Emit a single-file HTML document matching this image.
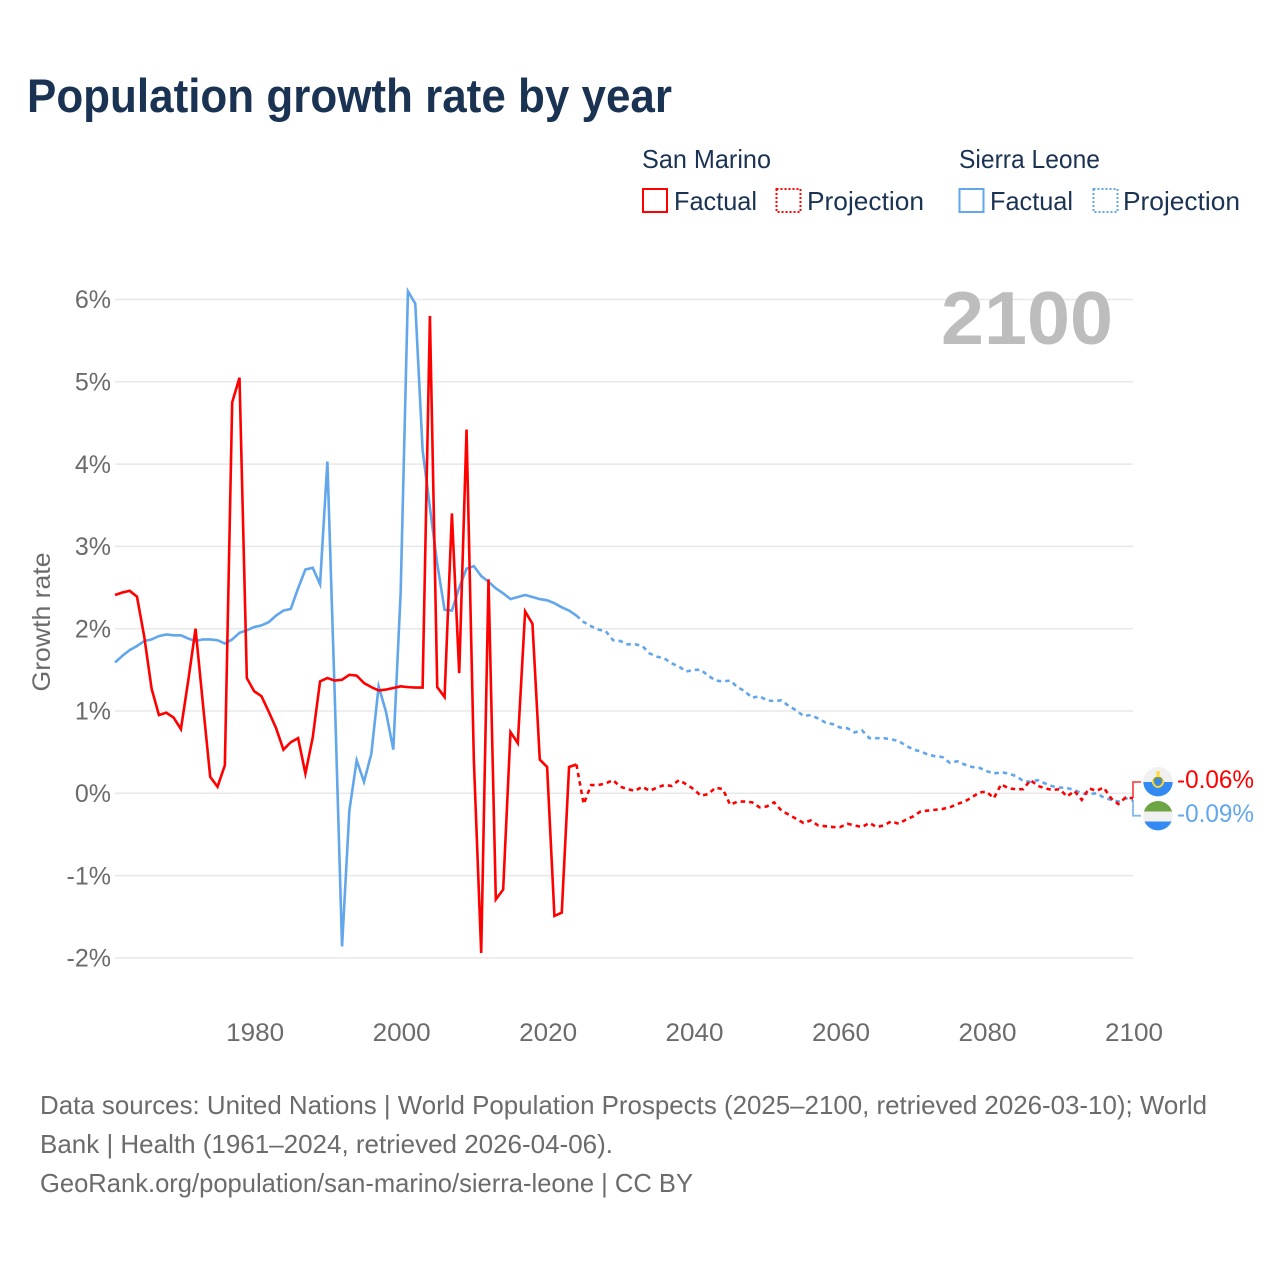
<!DOCTYPE html>
<html lang="en">
<head>
<meta charset="utf-8">
<title>Population growth rate by year</title>
<style>
html,body{margin:0;padding:0;background:#fff;}
svg{display:block;}
text{font-family:"Liberation Sans",sans-serif;}
</style>
</head>
<body>
<svg id="chart" xmlns="http://www.w3.org/2000/svg" width="1280" height="1280" viewBox="0 0 1280 1280">
  <rect x="0" y="0" width="1280" height="1280" fill="#ffffff"/>
  <text x="27" y="112" font-size="47" font-weight="700" fill="#1a3353" textLength="645" lengthAdjust="spacingAndGlyphs">Population growth rate by year</text>

  <g>
    <text x="642" y="168" font-size="26" fill="#1a3353" textLength="129" lengthAdjust="spacingAndGlyphs">San Marino</text>
    <text x="959" y="168" font-size="26" fill="#1a3353" textLength="141" lengthAdjust="spacingAndGlyphs">Sierra Leone</text>
    <rect x="643" y="189" width="24" height="23" fill="none" stroke="#ff0000" stroke-width="2"/>
    <text x="674" y="210" font-size="26" fill="#1a3353" textLength="83" lengthAdjust="spacingAndGlyphs">Factual</text>
    <rect x="776.5" y="189" width="24" height="23" fill="none" stroke="#ff0000" stroke-width="2" stroke-dasharray="2 2"/>
    <text x="807" y="210" font-size="26" fill="#1a3353" textLength="117" lengthAdjust="spacingAndGlyphs">Projection</text>
    <rect x="959.5" y="189" width="24" height="23" fill="none" stroke="#62a6ec" stroke-width="2"/>
    <text x="990" y="210" font-size="26" fill="#1a3353" textLength="83" lengthAdjust="spacingAndGlyphs">Factual</text>
    <rect x="1093.5" y="189" width="24" height="23" fill="none" stroke="#62a6ec" stroke-width="2" stroke-dasharray="2 2"/>
    <text x="1123" y="210" font-size="26" fill="#1a3353" textLength="117" lengthAdjust="spacingAndGlyphs">Projection</text>
  </g>

  <g id="grid"></g>
  <g id="yticks"></g>
  <g id="xticks"></g>
  <text transform="translate(50,622) rotate(-90)" text-anchor="middle" font-size="25" fill="#6b6b6b" textLength="139" lengthAdjust="spacingAndGlyphs">Growth rate</text>
  <text x="941" y="344" font-size="75" font-weight="700" fill="#bdbdbd" textLength="172" lengthAdjust="spacingAndGlyphs">2100</text>

  <g id="series"></g>

  <path d="M1133 798V782H1141" fill="none" stroke="#ff0000" stroke-opacity="0.7" stroke-width="1.8"/>
  <path d="M1133 800V815.7H1141" fill="none" stroke="#62a6ec" stroke-opacity="0.8" stroke-width="1.8"/>

  <defs>
    <clipPath id="clip-sm"><circle cx="1158" cy="781.7" r="14.7"/></clipPath>
    <clipPath id="clip-sl"><circle cx="1158" cy="815.7" r="14.7"/></clipPath>
  </defs>
  <g clip-path="url(#clip-sm)">
    <rect x="1143" y="767" width="30" height="15" fill="#f0f0f0"/>
    <rect x="1143" y="782" width="30" height="15" fill="#338af3"/>
    <circle cx="1158" cy="782" r="4.5" fill="#338af3" stroke="#8a9a3a" stroke-width="2"/>
    <rect x="1156.3" y="771" width="3.4" height="6" fill="#ffda44"/>
    <path d="M1152.5 780a5.5 7 0 0 0 11 0" fill="none" stroke="#ffda44" stroke-width="1.8"/>
  </g>
  <g clip-path="url(#clip-sl)">
    <rect x="1143" y="801" width="30" height="10.5" fill="#6da544"/>
    <rect x="1143" y="811.5" width="30" height="10" fill="#f0f0f0"/>
    <rect x="1143" y="821.5" width="30" height="10" fill="#338af3"/>
  </g>
  <text x="1177" y="788" font-size="25" fill="#ff0000" textLength="77" lengthAdjust="spacingAndGlyphs">-0.06%</text>
  <text x="1177" y="822" font-size="25" fill="#62a6ec" textLength="77" lengthAdjust="spacingAndGlyphs">-0.09%</text>

  <g font-size="26" fill="#6b6b6b">
    <text x="40" y="1114" textLength="1167" lengthAdjust="spacingAndGlyphs">Data sources: United Nations | World Population Prospects (2025–2100, retrieved 2026-03-10); World</text>
    <text x="40" y="1153" textLength="573" lengthAdjust="spacingAndGlyphs">Bank | Health (1961–2024, retrieved 2026-04-06).</text>
    <text x="40" y="1192" textLength="653" lengthAdjust="spacingAndGlyphs">GeoRank.org/population/san-marino/sierra-leone | CC BY</text>
  </g>
</svg>
<script>
const factualStartYear = 1961;
const projectionStartYear = 2024;
const yTickValues = [6, 5, 4, 3, 2, 1, 0, -1, -2];
const yTickLabels = ['6%', '5%', '4%', '3%', '2%', '1%', '0%', '-1%', '-2%'];
const xTickValues = [1980, 2000, 2020, 2040, 2060, 2080, 2100];
const xTickLabels = ['1980', '2000', '2020', '2040', '2060', '2080', '2100'];

const sanMarinoFactual = [
  2.41, 2.44, 2.46, 2.39, 1.90, 1.27, 0.95, 0.98, 0.92, 0.78,
  1.37, 2.00, 1.09, 0.20, 0.08, 0.34, 4.75, 5.05, 1.40, 1.24,
  1.18, 0.99, 0.79, 0.53, 0.62, 0.67, 0.24, 0.68, 1.36, 1.40,
  1.37, 1.38, 1.44, 1.43, 1.34, 1.29, 1.25, 1.26, 1.28, 1.30,
  1.29, 1.285, 1.285, 5.80, 1.29, 1.17, 3.40, 1.46, 4.42, 0.40,
  -1.94, 2.60, -1.29, -1.17, 0.745, 0.61, 2.21, 2.06, 0.41, 0.32,
  -1.49, -1.45, 0.32, 0.35
];
const sanMarinoProjection = [
  0.35, -0.13, 0.10, 0.10, 0.12, 0.16, 0.08, 0.05, 0.03, 0.08,
  0.03, 0.07, 0.10, 0.09, 0.16, 0.11, 0.05, -0.03, -0.01, 0.07,
  0.05, -0.14, -0.10, -0.10, -0.11, -0.17, -0.16, -0.11, -0.21, -0.26,
  -0.31, -0.36, -0.33, -0.39, -0.40, -0.41, -0.41, -0.37, -0.39, -0.41,
  -0.36, -0.41, -0.39, -0.34, -0.37, -0.32, -0.28, -0.22, -0.21, -0.20,
  -0.19, -0.17, -0.13, -0.10, -0.05, 0.01, 0.02, -0.06, 0.11, 0.06,
  0.05, 0.05, 0.16, 0.09, 0.06, 0.04, 0.05, -0.04, 0.03, -0.08,
  0.06, 0.03, 0.07, -0.06, -0.13, -0.05, -0.06
];
const sierraLeoneFactual = [
  1.59, 1.67, 1.74, 1.79, 1.85, 1.87, 1.91, 1.93, 1.92, 1.92,
  1.88, 1.85, 1.87, 1.87, 1.86, 1.82, 1.87, 1.95, 1.98, 2.02,
  2.04, 2.08, 2.16, 2.22, 2.24, 2.49, 2.72, 2.74, 2.54, 4.03,
  1.20, -1.86, -0.21, 0.40, 0.14, 0.48, 1.30, 0.99, 0.53, 2.43,
  6.10, 5.95, 4.17, 3.47, 2.79, 2.23, 2.22, 2.50, 2.73, 2.76,
  2.64, 2.57, 2.49, 2.43, 2.36, 2.385, 2.41, 2.385, 2.36, 2.345,
  2.31, 2.26, 2.22, 2.16
];
const sierraLeoneProjection = [
  2.16, 2.08, 2.03, 1.99, 1.97, 1.86, 1.85, 1.81, 1.81, 1.79,
  1.70, 1.66, 1.64, 1.58, 1.54, 1.48, 1.50, 1.50, 1.43, 1.37,
  1.36, 1.37, 1.29, 1.24, 1.16, 1.18, 1.13, 1.12, 1.13, 1.06,
  1.01, 0.94, 0.95, 0.91, 0.86, 0.84, 0.80, 0.79, 0.74, 0.765,
  0.67, 0.67, 0.67, 0.655, 0.635, 0.58, 0.53, 0.51, 0.47, 0.45,
  0.44, 0.37, 0.39, 0.35, 0.32, 0.31, 0.27, 0.24, 0.255, 0.24,
  0.21, 0.15, 0.14, 0.16, 0.12, 0.085, 0.07, 0.065, 0.04, 0.00,
  -0.01, 0.00, -0.05, -0.08, -0.10, -0.06, -0.09
];

const NS = 'http://www.w3.org/2000/svg';
function xScale(year) { return 115 + (year - 1961) * (1133 - 115) / (2100 - 1961); }
function yScale(value) { return 793.3 - value * 82.3; }
function linePath(startYear, values) {
  return values.map(function (v, i) {
    return (i ? 'L' : 'M') + xScale(startYear + i).toFixed(2) + ' ' + yScale(v).toFixed(2);
  }).join('');
}

const gridGroup = document.getElementById('grid');
const yTickGroup = document.getElementById('yticks');
const xTickGroup = document.getElementById('xticks');
const seriesGroup = document.getElementById('series');

yTickValues.forEach(function (v, i) {
  const ln = document.createElementNS(NS, 'line');
  
  
  ln.setAttribute('x1', 115);
  ln.setAttribute('x2', 1133);
  ln.setAttribute('y1', yScale(v));
  ln.setAttribute('y2', yScale(v));
  ln.setAttribute('stroke', '#e8e8e8');
  ln.setAttribute('stroke-width', '1.5');
  gridGroup.appendChild(ln);

  const t = document.createElementNS(NS, 'text');
  
  
  t.setAttribute('x', 111);
  t.setAttribute('y', yScale(v) + 8.7);
  t.setAttribute('text-anchor', 'end');
  t.setAttribute('font-size', '25');
  t.setAttribute('fill', '#6b6b6b');
  t.textContent = yTickLabels[i];
  yTickGroup.appendChild(t);
});

xTickValues.forEach(function (v, i) {
  const t = document.createElementNS(NS, 'text');
  
  
  t.setAttribute('x', xScale(v) + 1);
  t.setAttribute('y', 1041);
  t.setAttribute('text-anchor', 'middle');
  t.setAttribute('font-size', '25');
  t.setAttribute('fill', '#6b6b6b');
  t.setAttribute('textLength', '58');
  t.setAttribute('lengthAdjust', 'spacingAndGlyphs');
  t.textContent = xTickLabels[i];
  xTickGroup.appendChild(t);
});

function styleLine(p, color, dashed) {
  p.setAttribute('fill', 'none');
  p.setAttribute('stroke', color);
  p.setAttribute('stroke-width', '2.6');
  p.setAttribute('stroke-linejoin', 'miter');
  p.setAttribute('stroke-miterlimit', '6');
  if (dashed) { p.setAttribute('stroke-dasharray', '4.5 4'); }
  seriesGroup.appendChild(p);
}

const lineSierraProjection = document.createElementNS(NS, 'path');


lineSierraProjection.setAttribute('d', linePath(projectionStartYear, sierraLeoneProjection));
styleLine(lineSierraProjection, '#62a6ec', true);

const lineSierraFactual = document.createElementNS(NS, 'path');


lineSierraFactual.setAttribute('d', linePath(factualStartYear, sierraLeoneFactual));
styleLine(lineSierraFactual, '#62a6ec', false);

const lineMarinoProjection = document.createElementNS(NS, 'path');


lineMarinoProjection.setAttribute('d', linePath(projectionStartYear, sanMarinoProjection));
styleLine(lineMarinoProjection, '#ff0000', true);

const lineMarinoFactual = document.createElementNS(NS, 'path');


lineMarinoFactual.setAttribute('d', linePath(factualStartYear, sanMarinoFactual));
styleLine(lineMarinoFactual, '#ff0000', false);
</script>
</body>
</html>
